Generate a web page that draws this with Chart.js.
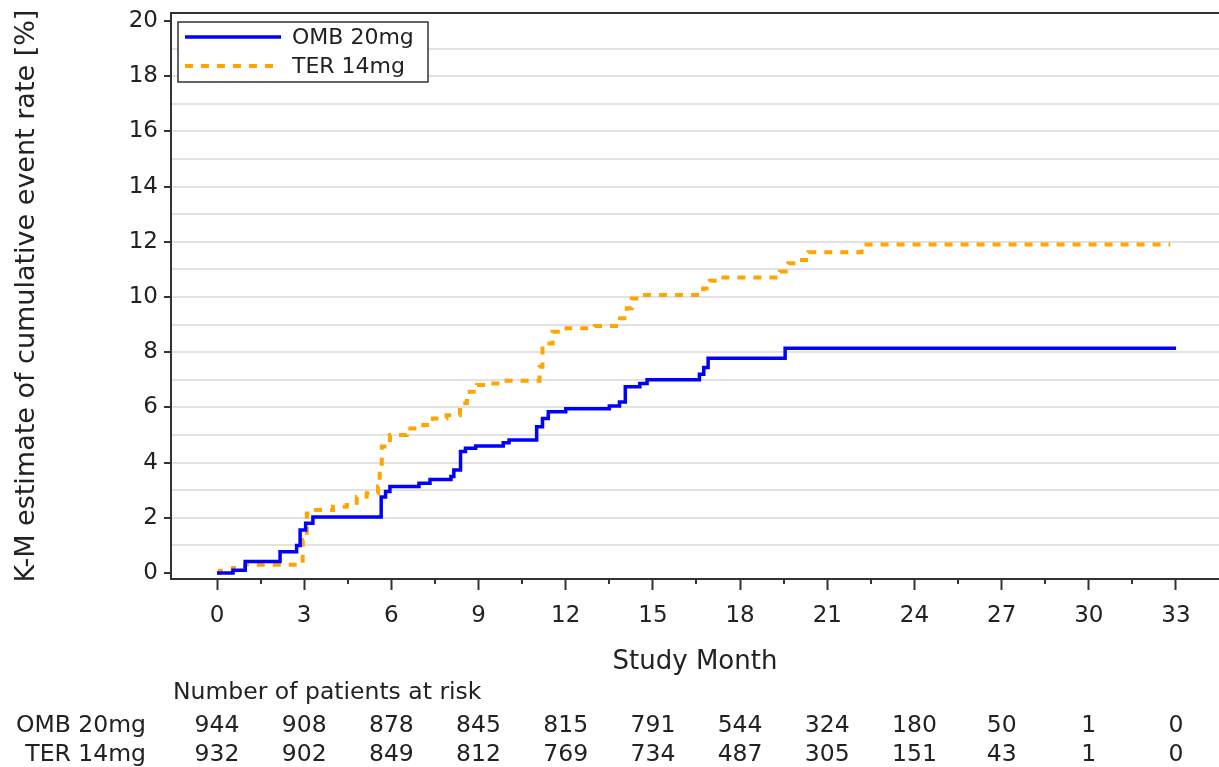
<!DOCTYPE html>
<html>
<head>
<meta charset="utf-8">
<script src="https://cdn.jsdelivr.net/npm/chart.js@4.4.1/dist/chart.umd.min.js"></script>
<style>
  html, body { margin: 0; padding: 0; background: #fff; }
  #wrap { width: 1219px; height: 767px; }
</style>
</head>
<body>
<div id="wrap"><canvas id="kmChart" width="1219" height="767"></canvas></div>
<script>
// K-M curves
const seriesNames = ['OMB 20mg', 'TER 14mg'];
const seriesColors = ['#0000ff', '#ffa500'];

const ombMonths = [0, 0.55, 0.97, 2.17, 2.74, 2.86, 3.05, 3.3, 5.65, 5.8, 5.95, 6.95, 7.33,
  8.05, 8.15, 8.38, 8.55, 8.9, 9.85, 10.05, 11.0, 11.2, 11.4, 12.0, 13.5, 13.85, 14.05,
  14.55, 14.8, 16.6, 16.75, 16.9, 19.55, 33.0];
const ombRates = [0, 0.1, 0.42, 0.77, 1.0, 1.56, 1.8, 2.03, 2.75, 2.95, 3.13, 3.25, 3.39,
  3.5, 3.73, 4.4, 4.52, 4.6, 4.72, 4.82, 5.3, 5.6, 5.84, 5.95, 6.05, 6.2, 6.75,
  6.87, 7.0, 7.2, 7.45, 7.78, 8.14, 8.14];

const terMonths = [0, 0.1, 0.55, 0.97, 2.86, 2.95, 3.09, 3.4, 3.99, 4.46, 4.81, 5.15, 5.54,
  5.6, 5.67, 5.95, 6.53, 7.1, 7.43, 7.9, 8.36, 8.6, 8.95, 9.4, 9.85, 11.1, 11.2, 11.55,
  12.03, 13.0, 13.87, 14.1, 14.27, 14.66, 16.73, 16.96, 17.31, 19.37, 19.66, 20.06,
  20.35, 22.18, 32.8];
const terRates = [0, 0.08, 0.18, 0.3, 0.35, 1.2, 2.16, 2.28, 2.4, 2.46, 2.76, 2.89, 3.13,
  3.6, 4.58, 5.0, 5.24, 5.36, 5.6, 5.72, 6.15, 6.57, 6.81, 6.87, 6.97, 7.47, 8.32, 8.74,
  8.87, 8.95, 9.23, 9.59, 9.95, 10.07, 10.31, 10.59, 10.71, 10.92, 11.22, 11.34,
  11.62, 11.9, 11.9];

// axis ticks
const xMajorTicks = [0, 3, 6, 9, 12, 15, 18, 21, 24, 27, 30, 33];
const xMinorTicks = [1.5, 4.5, 7.5, 10.5, 13.5, 16.5, 19.5, 22.5, 25.5, 28.5, 31.5];
const yTicks = [0, 1, 2, 3, 4, 5, 6, 7, 8, 9, 10, 11, 12, 13, 14, 15, 16, 17, 18, 19, 20];

// number at risk table
const riskMonths = [0, 3, 6, 9, 12, 15, 18, 21, 24, 27, 30, 33];
const ombAtRisk = [944, 908, 878, 845, 815, 791, 544, 324, 180, 50, 1, 0];
const terAtRisk = [932, 902, 849, 812, 769, 734, 487, 305, 151, 43, 1, 0];

const FONT = 'DejaVu Sans';
const TXT = '#222';
const AXIS = '#333';

function toPoints(xs, ys) {
  return xs.map((x, i) => ({ x: x, y: ys[i] }));
}

const kmExtras = {
  id: 'kmExtras',
  afterDraw(chart) {
    const { ctx, chartArea: a, scales: { x } } = chart;
    ctx.save();

    // top frame
    ctx.strokeStyle = AXIS;
    ctx.lineWidth = 2;
    ctx.beginPath();
    ctx.moveTo(a.left - 1, a.top);
    ctx.lineTo(a.right, a.top);
    ctx.stroke();

    // minor ticks on x
    ctx.lineWidth = 2;
    xMinorTicks.forEach(v => {
      const px = Math.round(x.getPixelForValue(v));
      ctx.beginPath();
      ctx.moveTo(px, a.bottom);
      ctx.lineTo(px, a.bottom + 5);
      ctx.stroke();
    });

    // legend
    const lx = a.left + 7, ly = a.top + 9, lw = 250, lh = 60;
    ctx.fillStyle = '#fff';
    ctx.fillRect(lx, ly, lw, lh);
    ctx.strokeStyle = AXIS;
    ctx.lineWidth = 1.5;
    ctx.strokeRect(lx, ly, lw, lh);
    ctx.font = '22px "' + FONT + '"';
    ctx.textBaseline = 'middle';
    ctx.textAlign = 'left';
    seriesNames.forEach((name, i) => {
      const yy = ly + 15 + i * 29;
      ctx.strokeStyle = seriesColors[i];
      ctx.lineWidth = i === 1 ? 4 : 3.5;
      ctx.setLineDash(i === 1 ? [8, 8] : []);
      ctx.beginPath();
      ctx.moveTo(lx + 7, yy);
      ctx.lineTo(lx + (i === 1 ? 100 : 103), yy);
      ctx.stroke();
      ctx.setLineDash([]);
      ctx.fillStyle = TXT;
      ctx.fillText(name, lx + 114, yy + 1);
    });

    // patients at risk
    ctx.font = '23.5px "' + FONT + '"';
    ctx.fillStyle = TXT;
    ctx.textAlign = 'left';
    ctx.fillText('Number of patients at risk', 173, 693);
    const rows = [ombAtRisk, terAtRisk];
    rows.forEach((row, r) => {
      const yy = 726 + r * 29;
      ctx.textAlign = 'right';
      ctx.fillText(seriesNames[r], 146, yy);
      ctx.textAlign = 'center';
      row.forEach((n, i) => {
        ctx.fillText(String(n), x.getPixelForValue(riskMonths[i]), yy);
      });
    });

    ctx.restore();
  }
};

new Chart(document.getElementById('kmChart'), {
  type: 'line',
  data: {
    datasets: [
      {
        label: seriesNames[0],
        data: toPoints(ombMonths, ombRates),
        borderColor: seriesColors[0],
        borderWidth: 3.5,
        stepped: 'before',
        pointRadius: 0,
        fill: false
      },
      {
        label: seriesNames[1],
        data: toPoints(terMonths, terRates),
        borderColor: seriesColors[1],
        borderWidth: 4,
        borderDash: [8, 8],
        stepped: 'before',
        pointRadius: 0,
        fill: false
      }
    ]
  },
  options: {
    responsive: false,
    animation: false,
    devicePixelRatio: 1,
    layout: { padding: { left: 0, top: 13, right: 0, bottom: 82 } },
    plugins: {
      legend: { display: false },
      tooltip: { enabled: false }
    },
    scales: {
      x: {
        type: 'linear',
        min: -1.583,
        max: 34.48,
        afterBuildTicks: s => { s.ticks = xMajorTicks.map(v => ({ value: v })); },
        afterFit: s => { s.height = 106; s.paddingLeft = 0; s.paddingRight = 0; },
        ticks: {
          font: { family: FONT, size: 23 },
          color: TXT,
          padding: 12,
          maxRotation: 0,
          autoSkip: false
        },
        grid: {
          drawOnChartArea: false,
          drawTicks: true,
          tickLength: 11,
          tickWidth: 2,
          tickColor: AXIS
        },
        border: { display: true, color: AXIS, width: 2 },
        title: {
          display: true,
          text: 'Study Month',
          font: { family: FONT, size: 26 },
          color: TXT,
          padding: { top: 0, bottom: 7 }
        }
      },
      y: {
        type: 'linear',
        min: -0.217,
        max: 20.29,
        afterBuildTicks: s => { s.ticks = yTicks.map(v => ({ value: v })); },
        afterFit: s => { s.width = 171; s.paddingTop = 0; s.paddingBottom = 0; },
        ticks: {
          font: { family: FONT, size: 23 },
          color: TXT,
          padding: 6,
          autoSkip: false,
          callback: v => (v % 2 === 0 ? String(v) : '')
        },
        grid: {
          drawOnChartArea: true,
          drawTicks: true,
          tickLength: 7,
          tickWidth: 2,
          lineWidth: 2,
          color: c => (c.tick && (c.tick.value === 0 || c.tick.value === 20) ? 'rgba(0,0,0,0)' : '#e2e2e2'),
          tickColor: c => (c.tick && c.tick.value % 2 === 0 ? AXIS : 'rgba(0,0,0,0)')
        },
        border: { display: true, color: AXIS, width: 2 },
        title: {
          display: true,
          text: 'K-M estimate of cumulative event rate [%]',
          font: { family: FONT, size: 27 },
          color: TXT,
          padding: { top: 11, bottom: 0 }
        }
      }
    }
  },
  plugins: [kmExtras]
});
</script>
</body>
</html>
